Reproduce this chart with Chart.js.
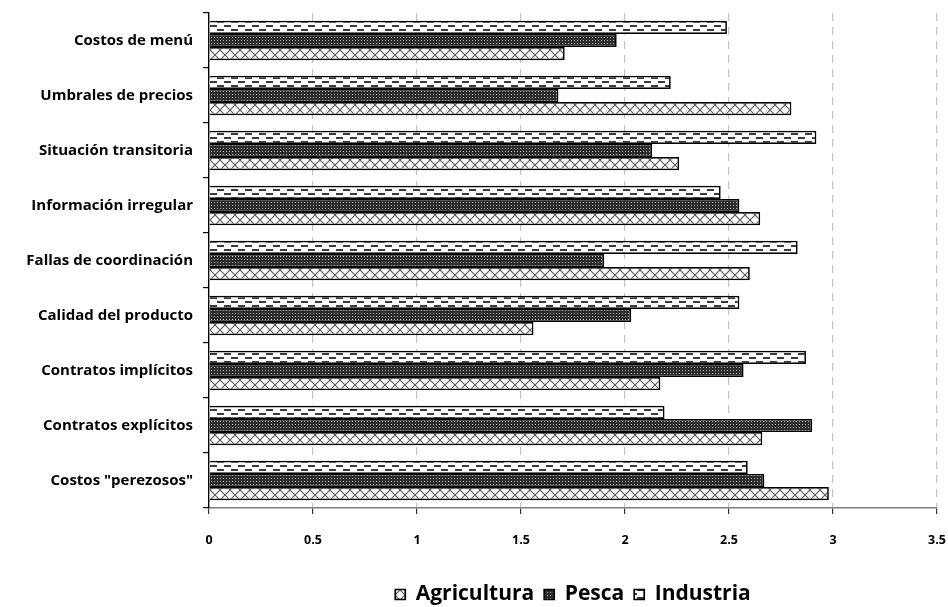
<!DOCTYPE html>
<html>
<head>
<meta charset="utf-8">
<script src="https://cdn.jsdelivr.net/npm/chart.js@4"></script>
<style>
  html, body { margin: 0; padding: 0; background: #fff; }
  #wrap { width: 948px; height: 607px; }
</style>
</head>
<body>
<div id="wrap"><canvas id="chart"></canvas></div>
<script>
// ── Data ────────────────────────────────────────────────
const categories = [
  'Costos de menú',
  'Umbrales de precios',
  'Situación transitoria',
  'Información irregular',
  'Fallas de coordinación',
  'Calidad del producto',
  'Contratos implícitos',
  'Contratos explícitos',
  'Costos "perezosos"',
];
const industria   = [2.49, 2.22, 2.92, 2.46, 2.83, 2.55, 2.87, 2.19, 2.59];
const pesca       = [1.96, 1.68, 2.13, 2.55, 1.90, 2.03, 2.57, 2.90, 2.67];
const agricultura = [1.71, 2.80, 2.26, 2.65, 2.60, 1.56, 2.17, 2.66, 2.98];
const xTicks = [0, 0.5, 1, 1.5, 2, 2.5, 3, 3.5];

// ── Fill patterns ───────────────────────────────────────
function makePattern(kind) {
  const c = document.createElement('canvas');
  const g = c.getContext('2d');
  if (kind === 'cross') {
    c.width = 10; c.height = 10;
    g.fillStyle = '#fff'; g.fillRect(0, 0, 10, 10);
    g.strokeStyle = '#5a5a5a'; g.lineWidth = 1.1;
    g.beginPath();
    g.moveTo(0, 0); g.lineTo(10, 10);
    g.moveTo(10, 0); g.lineTo(0, 10);
    g.stroke();
  } else if (kind === 'dots') {
    c.width = 3; c.height = 3;
    g.fillStyle = '#2b2b2b'; g.fillRect(0, 0, 3, 3);
    g.fillStyle = '#b0b0b0'; g.fillRect(1, 1, 1, 1);
  } else {
    c.width = 14; c.height = 8;
    g.fillStyle = '#fff'; g.fillRect(0, 0, 14, 8);
    g.fillStyle = '#3a3a3a';
    g.fillRect(0, 1, 7, 2);
    g.fillRect(7, 5, 7, 2);
  }
  return g.createPattern(c, 'repeat');
}

const FONT = "'Open Sans', sans-serif";

new Chart(document.getElementById('chart'), {
  type: 'bar',
  data: {
    labels: categories,
    datasets: [
      { label: 'Industria', data: industria, backgroundColor: makePattern('dash') },
      { label: 'Pesca', data: pesca, backgroundColor: makePattern('dots') },
      { label: 'Agricultura', data: agricultura, backgroundColor: makePattern('cross') },
    ].map((d) => Object.assign(d, {
      borderColor: '#000',
      borderWidth: 1.7,
      categoryPercentage: 0.72,
      barPercentage: 1.0,
    })),
  },
  options: {
    indexAxis: 'y',
    responsive: true,
    maintainAspectRatio: false,
    animation: false,
    layout: { padding: { top: 13, right: 11, bottom: -8, left: 0 } },
    plugins: {
      tooltip: { enabled: false },
      legend: {
        position: 'bottom',
        fullSize: false,
        reverse: true,
        labels: {
          color: '#000',
          font: { family: FONT, size: 21, weight: 'bold' },
          boxWidth: 10,
          boxHeight: 10,
          padding: 10,
        },
      },
    },
    scales: {
      x: {
        min: 0,
        max: 3.5,
        afterBuildTicks: (s) => { s.ticks = xTicks.map((v) => ({ value: v })); },
        afterFit: (s) => {
          s.height = 66;
          s.paddingLeft = 0;
          s.paddingRight = 0;
        },
        ticks: {
          color: '#000',
          padding: 19,
          font: { family: FONT, size: 12.5, weight: 'bold' },
          callback: (v) => String(v),
        },
        grid: {
          color: (ctx) => (ctx.index === 0 ? 'rgba(0,0,0,0)' : '#c4c4c4'),
          lineWidth: 1.2,
          tickColor: '#333',
          tickLength: 6,
        },
        border: { color: '#7a7a7a', width: 1.6, dash: [8, 6] },
      },
      y: {
        afterFit: (s) => {
          s.width = 209;
          s.paddingTop = 0;
          s.paddingBottom = 0;
        },
        ticks: {
          color: '#000',
          padding: 10,
          font: { family: FONT, size: 15, weight: 'bold' },
        },
        grid: {
          drawOnChartArea: false,
          tickColor: '#000',
          tickLength: 6,
          lineWidth: 1.2,
        },
        border: { color: '#000', width: 1.4 },
      },
    },
  },
});
</script>
</body>
</html>
